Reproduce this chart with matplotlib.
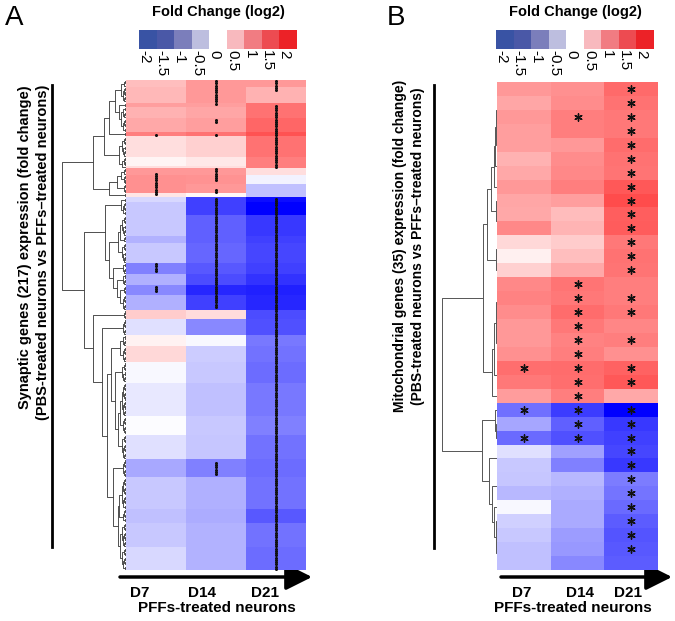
import numpy as np
import matplotlib
matplotlib.use('Agg')
import matplotlib.pyplot as plt
from matplotlib.colors import LinearSegmentedColormap
from matplotlib.collections import LineCollection

plt.rcParams['font.family'] = ['Liberation Sans', 'DejaVu Sans']

# ---- panel A: synaptic genes, row bands (rows per band, log2 fold change) ----
a_rows = [3, 7, 2, 5, 6, 2, 9, 4, 1, 3, 4, 4, 2,
          2, 6, 9, 3, 9, 5, 5, 4, 7,
          4, 7, 5, 7, 9, 15, 8, 11, 8, 14, 6, 11, 10]
a_d7 = [.5, .55, .75, .6, .68, 1.0, .25, .08, .25, .8, .87, .87, .2,
        -.3, -.43, -.43, -.6, -.43, -1.0, -.62, -.93, -.62,
        .4, -.25, .1, .3, -.05, -.18, -.03, -.25, -.68, -.43, -.5, -.43, -.3]
a_d14 = [.8, .8, .75, .7, .75, 1.1, .37, .18, .25, .8, .85, .8, .05,
         -1.5, -1.5, -1.25, -1.25, -1.2, -1.3, -1.4, -1.7, -1.5,
         .27, -.93, -.05, -.4, -.43, -.5, -.43, -.45, -1.0, -.62, -.65, -.6, -.6]
a_d21 = [.8, .6, 1.1, 1.1, 1.2, 1.35, 1.1, 1.0, 1.0, .25, -.1, -.5, -.5,
         -1.9, -2.0, -1.55, -1.5, -1.45, -1.5, -1.6, -1.75, -1.7,
         -1.4, -1.37, -1.05, -1.1, -1.15, -1.05, -1.0, -1.1, -1.15, -1.1, -1.3, -1.1, -1.15]
# significant rows (start, stop) per day
a_star_d7 = [(24, 25), (41, 51), (81, 85), (91, 94)]
a_star_d14 = [(0, 11), (17, 19), (24, 25), (39, 45), (48, 50), (52, 101), (169, 175)]
a_star_d21 = [(0, 5), (11, 39), (52, 217)]

# ---- panel B: mitochondrial genes ----
b_d7 = [.8, .7, .8, .75, .75, .6, .68, .8, .7, .68, .93, .3, .12, .37, .93, .97, .9, .8,
        .8, .87, 1.13, 1.05, .78, -1.12, -.7, -1.17, -.24, -.43, -.45, -.55, -.05, -.37, -.43, -.5, -.5]
b_d14 = [.87, .9, 1.0, 1.0, .8, .9, .93, 1.0, .75, .52, .58, .4, .5, .68, 1.08, 1.05, 1.15, 1.05,
         .97, 1.0, 1.15, 1.13, 1.0, -1.53, -1.25, -1.37, -.75, -1.0, -.55, -.62, -.67, -.67, -.78, -.8, -.93]
b_d21 = [1.16, 1.1, 1.05, 1.05, 1.15, 1.1, 1.08, 1.3, 1.4, 1.25, 1.28, 1.05, 1.1, 1.08, 1.0, 1.0, 1.05, .95,
         1.0, .87, 1.22, 1.3, .68, -2.0, -1.55, -1.5, -1.45, -1.55, -1.03, -1.08, -1.17, -1.28, -1.33, -1.3, -1.28]
b_star_d7 = [20, 23, 25]
b_star_d14 = [2] + list(range(14, 26))
b_star_d21 = list(range(0, 14)) + [15, 16, 18, 20, 21] + list(range(23, 34))

days = ['D7', 'D14', 'D21']
cb_colors = ['#3953a4', '#4a58a7', '#7b7ebb', '#bdbedf', '#ffffff',
             '#f8b9be', '#f17c82', '#ed4b51', '#ec2227']
cb_labels = ['-2', '-1.5', '-1', '-0.5', '0', '0.5', '1', '1.5', '2']

W, H = 675, 621
fig = plt.figure(figsize=(W / 100, H / 100), dpi=100)
cmap = LinearSegmentedColormap.from_list('bwr2', ['#0000ff', '#ffffff', '#ff0000'])


def px_axes(x0, y0, x1, y1):
    return fig.add_axes([x0 / W, 1 - y1 / H, (x1 - x0) / W, (y1 - y0) / H])


def dendro_segments(mat, step, k):
    # agglomerative clustering that keeps the displayed row order
    cl = [[i + 0.5, 0.0, mat[i].copy(), 1] for i in range(len(mat))]
    segs = []
    h = 0
    while len(cl) > 1:
        d = np.array([np.linalg.norm(cl[i][2] - cl[i + 1][2]) for i in range(len(cl) - 1)])
        n = np.array([cl[i][3] + cl[i + 1][3] for i in range(len(cl) - 1)])
        i = np.lexsort((n, np.round(d, 6)))[0]
        yl, hl, cl_, nl = cl[i]
        yr, hr, cr, nr = cl[i + 1]
        h = max(hl, hr) + step + k * d[i]
        segs.append([(hl, yl), (h, yl), (h, yr), (hr, yr)])
        cl[i:i + 2] = [[(yl + yr) / 2, h, (cl_ * nl + cr * nr) / (nl + nr), nl + nr]]
    return segs, h


overlay = fig.add_axes([0, 0, 1, 1])
overlay.set_xlim(0, W)
overlay.set_ylim(H, 0)
overlay.axis('off')


def panel(mat, stars, hm, dend, root_px, power, cbar, title_x, star_size, star_lw,
          dcolor, dlw, step, k):
    n = mat.shape[0]
    ax = px_axes(*hm)
    ax.pcolormesh(np.arange(4), np.arange(n + 1), mat, cmap=cmap, vmin=-2, vmax=2)
    ax.set_xlim(0, 3)
    ax.set_ylim(n, 0)
    ax.axis('off')
    for j, rows in enumerate(stars):
        rows = np.asarray(rows)
        ax.scatter(np.full(len(rows), j + 0.5), rows + 0.5, marker=(6, 2, 0),
                   s=star_size, linewidths=star_lw, color='#111111', zorder=3)

    dax = px_axes(dend, hm[1], hm[0], hm[3])
    segs, hroot = dendro_segments(mat, step, k)
    segs = [[(root_px * (x / hroot) ** power, y) for x, y in s] for s in segs]
    dax.add_collection(LineCollection(segs, colors=dcolor, linewidths=dlw))
    dax.set_xlim(hm[0] - dend, 0)
    dax.set_ylim(n, 0)
    dax.axis('off')

    cax = px_axes(*cbar)
    cax.bar(np.arange(9), 1, width=1, align='edge', color=cb_colors)
    cax.set_xlim(0, 9)
    cax.set_ylim(0, 1)
    cax.set_xticks(np.arange(9) + 0.3)
    cax.set_xticklabels(cb_labels, rotation=-90, fontsize=11, va='top')
    cax.tick_params(length=0, pad=1)
    cax.set_yticks([])
    for s in cax.spines.values():
        s.set_visible(False)
    overlay.text(title_x, 12, 'Fold Change (log2)', ha='center', va='center',
                 fontsize=10.5, fontweight='bold')


def expand(ranges):
    return [r for a, b in ranges for r in range(a, b)]


mat_a = np.column_stack([np.repeat(a_d7, a_rows), np.repeat(a_d14, a_rows),
                         np.repeat(a_d21, a_rows)])
mat_b = np.column_stack([b_d7, b_d14, b_d21])

panel(mat_a, [expand(a_star_d7), expand(a_star_d14), expand(a_star_d21)],
      (126, 80, 306, 570), 55, 64, 1.2, (139, 30, 297, 49), 218, 3, 0.5,
      '#333333', 0.6, 1.5, 6.0)
panel(mat_b, [b_star_d7, b_star_d14, b_star_d21],
      (497, 82, 658, 570), 436, 55, 1.9, (496, 30, 654, 49), 575, 28, 1.0,
      '#555555', 0.7, 1.0, 6.0)

# panel letters
overlay.text(14, 18, 'A', fontsize=20, ha='center', va='center')
overlay.text(396, 18, 'B', fontsize=20, ha='center', va='center')

# side labels
overlay.text(25, 85, 'Synaptic genes (217) expression (fold change)', rotation=90,
             ha='center', va='top', fontsize=10.5, fontweight='bold')
overlay.text(43, 85, '(PBS-treated neurons vs PFFs\u2013treated neurons)', rotation=90,
             ha='center', va='top', fontsize=10.5, fontweight='bold')
overlay.plot([52, 52], [85, 547], color='k', lw=2)
overlay.text(400, 80, 'Mitochondrial genes (35) expression (fold change)', rotation=90,
             ha='center', va='top', fontsize=10, fontweight='bold')
overlay.text(418, 87, '(PBS-treated neurons vs PFFs\u2013treated neurons)', rotation=90,
             ha='center', va='top', fontsize=10, fontweight='bold')
overlay.plot([434, 434], [85, 548], color='k', lw=2)

# time arrows
for x0, x1, xs, xc in [(120, 312, [140, 202, 265], 217), (501, 672, [522, 580, 628], 573)]:
    overlay.annotate('', xy=(x1, 577), xytext=(x0, 577),
                     arrowprops=dict(arrowstyle='-|>,head_length=0.8,head_width=0.4',
                                     lw=2.5, color='k', mutation_scale=20,
                                     shrinkA=0, shrinkB=0))
    for x, d in zip(xs, days):
        overlay.text(x, 593, d, ha='center', va='center', fontsize=11, fontweight='bold')
    overlay.text(xc, 608, 'PFFs-treated neurons', ha='center', va='center',
                 fontsize=11, fontweight='bold')

fig.savefig('out.png', dpi=100)
